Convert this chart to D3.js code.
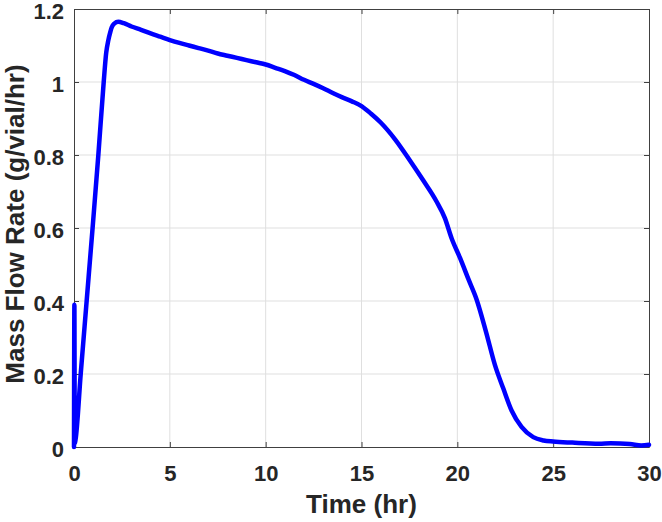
<!DOCTYPE html>
<html>
    <head>
        <title>Mass Flow Rate</title>
        <meta charset="utf-8">
        <script src="https://d3js.org/d3.v7.min.js"></script>
        <style>
            body { margin: 0; background: #fff; }
            text { font-family: "Liberation Sans", Arial, sans-serif; font-weight: bold; }
        </style>
    </head>
    <body>
        <svg height="522" width="662"></svg>
        <script type="text/javascript">
            // time (hr) and mass flow rate (g/vial/hr)
            var time = [0, 0.02, 0.04, 0.08, 0.35, 0.66, 0.97, 1.27, 1.55, 1.68, 1.79, 1.9, 1.97, 2.1, 2.31,
                2.6, 3.0, 3.5, 4.0, 4.5, 5.0, 5.5, 6.0, 6.5, 7.0, 7.5, 8.0, 8.5, 9.0, 9.5, 10.0,
                10.5, 11.0, 11.5, 12.0, 12.5, 13.0, 13.5, 14.0, 14.5, 15.0, 15.5, 16.0, 16.75, 17.5,
                18.2, 18.9, 19.35, 19.7, 20.14, 20.6, 21.0, 21.5, 21.96, 22.4, 22.83, 23.35,
                23.96, 24.5, 25.0, 26.0, 27.4, 28.0, 29.0, 29.6, 30.0];
            var flow = [0.0, 0.39, 0.01, 0.02, 0.2, 0.4, 0.6, 0.8, 1.0, 1.08, 1.114, 1.138, 1.15, 1.16, 1.165,
                1.161, 1.152, 1.143, 1.133, 1.124, 1.115, 1.107, 1.1, 1.093, 1.086, 1.078, 1.072, 1.066, 1.06, 1.054, 1.048,
                1.039, 1.03, 1.019, 1.006, 0.995, 0.983, 0.97, 0.958, 0.947, 0.934, 0.913, 0.889, 0.843, 0.787,
                0.732, 0.674, 0.627, 0.572, 0.518, 0.457, 0.405, 0.315, 0.225, 0.16, 0.1, 0.055,
                0.027, 0.018, 0.015, 0.012, 0.009, 0.01, 0.008, 0.004, 0.006];
            var xTicks = [0, 5, 10, 15, 20, 25, 30];
            var yTicks = [0, 0.2, 0.4, 0.6, 0.8, 1, 1.2];

            var pLeft = 74, pRight = 649, pTop = 9, pBottom = 447;
            var svg = d3.select("svg");

            var x = d3.scaleLinear().domain([0, 30]).range([pLeft, pRight]);
            var y = d3.scaleLinear().domain([0, 1.2]).range([pBottom, pTop]);

            // grid
            svg.append("g")
                .selectAll("line")
                .data(xTicks.slice(1, -1))
                .enter()
                .append("line")
                .attr("x1", function(d) { return x(d); })
                .attr("x2", function(d) { return x(d); })
                .attr("y1", pTop)
                .attr("y2", pBottom)
                .attr("stroke", "#dfdfdf");
            svg.append("g")
                .selectAll("line")
                .data(yTicks.slice(1, -1))
                .enter()
                .append("line")
                .attr("y1", function(d) { return y(d); })
                .attr("y2", function(d) { return y(d); })
                .attr("x1", pLeft)
                .attr("x2", pRight)
                .attr("stroke", "#dfdfdf");

            function styleAxis(g) {
                g.selectAll("path").attr("stroke", "#404040");
                g.selectAll("line").attr("stroke", "#404040");
                g.selectAll("text")
                    .attr("fill", "#262626")
                    .style("font-size", "22px");
            }

            var fmt = function(d) { return String(d); };

            svg.append("g")
                .attr("transform", "translate(0," + pBottom + ")")
                .call(d3.axisBottom(x).tickValues(xTicks).tickFormat(fmt).tickSize(-5).tickSizeOuter(0).tickPadding(18))
                .call(styleAxis);
            svg.append("g")
                .attr("transform", "translate(0," + pTop + ")")
                .call(d3.axisTop(x).tickValues(xTicks).tickSize(-5).tickSizeOuter(0).tickFormat(""))
                .call(styleAxis);
            var yAxis = svg.append("g")
                .attr("transform", "translate(" + pLeft + ",0)")
                .call(d3.axisLeft(y).tickValues(yTicks).tickFormat(fmt).tickSize(-5).tickSizeOuter(0).tickPadding(10))
                .call(styleAxis);
            yAxis.selectAll("text").attr("dy", "0.42em");
            svg.append("g")
                .attr("transform", "translate(" + pRight + ",0)")
                .call(d3.axisRight(y).tickValues(yTicks).tickSize(-5).tickSizeOuter(0).tickFormat(""))
                .call(styleAxis);

            // curve
            var line = d3.line()
                .x(function(d) { return x(time[d]); })
                .y(function(d) { return y(flow[d]); })
                .curve(d3.curveMonotoneX);

            svg.append("path")
                .datum(d3.range(time.length))
                .attr("d", line)
                .attr("fill", "none")
                .attr("stroke", "#0000ff")
                .attr("stroke-width", 4.5)
                .attr("stroke-linejoin", "round")
                .attr("stroke-linecap", "round");

            // labels
            svg.append("text")
                .attr("x", (pLeft + pRight) / 2)
                .attr("y", 513)
                .attr("text-anchor", "middle")
                .attr("fill", "#262626")
                .style("font-size", "26px")
                .text("Time (hr)");

            svg.append("text")
                .attr("transform", "translate(24," + 224 + ") rotate(-90)")
                .attr("text-anchor", "middle")
                .attr("fill", "#262626")
                .style("font-size", "26px")
                .text("Mass Flow Rate (g/vial/hr)");
        </script>
    </body>
</html>
